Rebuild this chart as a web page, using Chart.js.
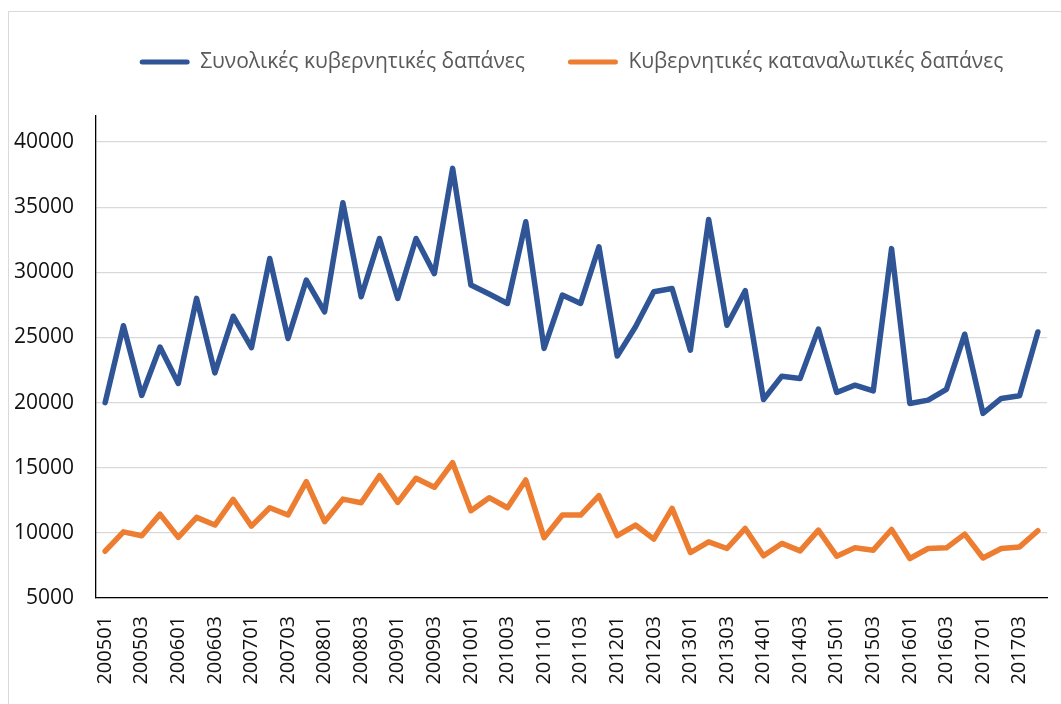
<!DOCTYPE html>
<html><head><meta charset="utf-8">
<script src="https://cdn.jsdelivr.net/npm/chart.js@4"></script>
<style>
html,body{margin:0;padding:0;background:#fff;width:1061px;height:704px;overflow:hidden}
#frame{position:absolute;left:8px;top:11px;width:1100px;height:760px;border:1px solid #d9d9d9;box-sizing:border-box}
#wrap{position:absolute;left:0;top:0;width:1061px;height:704px}
</style></head><body>
<div id="frame"></div>
<div id="wrap"><canvas id="c"></canvas></div>
<script>
const quarters = [
 "200501","200502","200503","200504","200601","200602","200603","200604",
 "200701","200702","200703","200704","200801","200802","200803","200804",
 "200901","200902","200903","200904","201001","201002","201003","201004",
 "201101","201102","201103","201104","201201","201202","201203","201204",
 "201301","201302","201303","201304","201401","201402","201403","201404",
 "201501","201502","201503","201504","201601","201602","201603","201604",
 "201701","201702","201703","201704"
];
const totalSpending = [
 20000,25900,20550,24270,21470,28000,22280,26630,24220,31060,24920,29400,26970,
 35340,28130,32600,28000,32600,29900,37980,29020,28330,27610,33880,24160,28250,
 27610,31960,23570,25820,28510,28760,24030,34060,25940,28590,20240,22030,21850,
 25640,20780,21340,20900,31820,19930,20190,21010,25250,19170,20320,20520,25420
];
const consumptionSpending = [
 8590,10080,9780,11440,9650,11190,10600,12570,10520,11930,11370,13930,10860,
 12590,12310,14390,12340,14190,13500,15390,11700,12700,11930,14060,9630,11370,
 11370,12860,9780,10600,9520,11880,8490,9310,8800,10340,8240,9190,8620,
 10210,8210,8850,8670,10260,8030,8800,8850,9900,8070,8800,8920,10160
];
const seriesNames = ["Συνολικές κυβερνητικές δαπάνες","Κυβερνητικές καταναλωτικές δαπάνες"];
const yTickValues = [5000,10000,15000,20000,25000,30000,35000,40000];
const yMin = 5000, yMax = 42000;

Chart.defaults.font.family = "'Open Sans', 'Noto Sans', sans-serif";
Chart.defaults.devicePixelRatio = 1;

const yFontSize = 21;

new Chart(document.getElementById('c'), {
  type: 'line',
  data: {
    labels: quarters,
    datasets: [
      {label: seriesNames[0], data: totalSpending, borderColor: '#2F5597', backgroundColor: '#2F5597',
       borderWidth: 5.5, pointRadius: 0, tension: 0, borderJoinStyle: 'round', borderCapStyle: 'round'},
      {label: seriesNames[1], data: consumptionSpending, borderColor: '#ED7D31', backgroundColor: '#ED7D31',
       borderWidth: 5.5, pointRadius: 0, tension: 0, borderJoinStyle: 'round', borderCapStyle: 'round'}
    ]
  },
  options: {
    responsive: true,
    maintainAspectRatio: false,
    animation: false,
    layout: {padding: {left: 96, right: 14, top: 8.5, bottom: 0}},
    plugins: {
      tooltip: {enabled: false},
      title: {display: true, text: '', weight: 500, font: {size: 10}, padding: {top: 0, bottom: 21.5}},
      legend: {
        position: 'top',
        labels: {
          color: '#595959',
          font: {size: 21},
          boxWidth: 50,
          boxHeight: 5,
          padding: 43,
          useBorderRadius: true,
          borderRadius: 2.5,
          generateLabels: (chart) => Chart.defaults.plugins.legend.labels.generateLabels(chart)
            .map(l => Object.assign(l, {lineWidth: 0}))
        }
      }
    },
    scales: {
      x: {
        offset: true,
        grid: {display: false, drawTicks: false},
        border: {display: true, color: '#000', width: 1.3},
        afterFit: (s) => { s.height = 106; s.paddingLeft = 0; s.paddingRight = 0; },
        ticks: {
          autoSkip: false, maxRotation: 90, minRotation: 90, padding: 18,
          color: '#111', font: {size: 20},
          callback: (v, i) => (i % 2 === 0 ? quarters[i] : '')
        }
      },
      y: {
        min: yMin, max: yMax,
        afterBuildTicks: (s) => { s.ticks = yTickValues.map(v => ({value: v})); },
        afterFit: (s) => { s.width = 0; s.paddingTop = 0; s.paddingBottom = 0; },
        grid: {color: '#d9d9d9', lineWidth: 1.2, drawTicks: false},
        border: {display: true, color: '#000', width: 1.3},
        ticks: {
          mirror: true, crossAlign: 'far',
          padding: -(22 + 5 * 0.572 * yFontSize),
          color: '#111', font: {size: yFontSize},
          callback: (v) => String(v)
        }
      }
    }
  }
});
</script>
</body></html>
